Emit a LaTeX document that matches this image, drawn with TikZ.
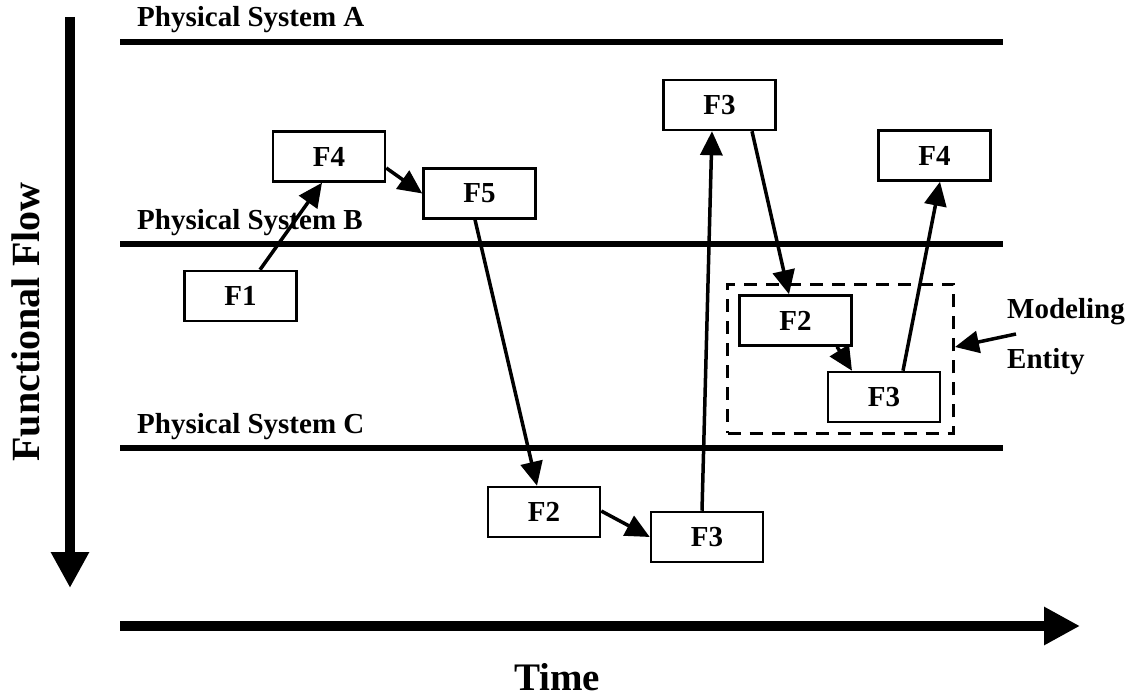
\documentclass[tikz,border=0pt]{standalone}
\usepackage{fontspec}
\setmainfont{Liberation Serif}
\usetikzlibrary{arrows.meta,calc}
\begin{document}
\begin{tikzpicture}[x=1pt,y=-1pt,
  fbox/.style={draw,line width=2.5pt,minimum width=112pt,minimum height=50pt,inner sep=0pt,
    font=\bfseries\fontsize{29}{30}\selectfont},
  conn/.style={line width=3.5pt,-{Triangle[length=24pt,width=22pt]}},
  sysline/.style={line width=6pt},
  syslabel/.style={anchor=base west,inner sep=0pt,font=\bfseries\fontsize{29}{30}\selectfont},
  axis/.style={line width=10pt,-{Triangle[length=36pt,width=36pt]}},
  biglabel/.style={inner sep=0pt,font=\bfseries\fontsize{40}{42}\selectfont}
]
\useasboundingbox (0,0) rectangle (1130,700);
% axes
\coordinate (vtop) at (70,17);
\coordinate (vbot) at (70,588);
\coordinate (hl) at (120,626);
\coordinate (hr) at (1080,626);
\draw[axis] (vtop) -- (vbot);
\draw[axis] (hl) -- (hr);
\node[biglabel,rotate=90] (ff) at (26,322) {Functional Flow};
\node[biglabel,font=\bfseries\fontsize{39}{42}\selectfont,anchor=base] (time) at (557,690) {Time};
% physical systems
\coordinate (al) at (120,42); \coordinate (ar) at (1003,42);
\coordinate (bl) at (120,244); \coordinate (br) at (1003,244);
\coordinate (cl) at (120,448); \coordinate (cr) at (1003,448);
\draw[sysline] (al) -- (ar);
\draw[sysline] (bl) -- (br);
\draw[sysline] (cl) -- (cr);
\node[syslabel] (la) at (137,27) {Physical System A};
\node[syslabel] (lb) at (137,230) {Physical System B};
\node[syslabel] (lc) at (137,433) {Physical System C};
% modeling entity
\node[draw,line width=3pt,dash pattern=on 13pt off 9pt,minimum width=226pt,minimum height=149pt,inner sep=0pt] (ent) at (840.5,359) {};
\node[anchor=west,inner sep=0pt,font=\bfseries\fontsize{29}{30}\selectfont] (mod) at (1007,312) {Modeling};
\node[anchor=west,inner sep=0pt,font=\bfseries\fontsize{29}{30}\selectfont] (enty) at (1007,362) {Entity};
\coordinate (mstart) at (1016,334);
% function boxes
\node[fbox] (f1) at (240.5,296) {F1};
\node[fbox] (f4a) at (329,156.5) {F4};
\node[fbox] (f5) at (479.5,193.5) {F5};
\node[fbox] (f2a) at (544,512) {F2};
\node[fbox] (f3a) at (707,537) {F3};
\node[fbox] (f3b) at (719.5,105) {F3};
\node[fbox] (f2b) at (795.5,320.5) {F2};
\node[fbox] (f3c) at (884,397) {F3};
\node[fbox] (f4b) at (934.5,155.5) {F4};
% connectors
\draw[conn] ([xshift=19.5pt]f1.north) -- ([xshift=-7pt]f4a.south);
\draw[conn] ([yshift=-11.5pt]f4a.east) -- (f5.west);
\draw[conn] ([xshift=-4.5pt]f5.south) -- ([xshift=-7pt]f2a.north);
\draw[conn] ([yshift=1pt]f2a.east) -- (f3a.west);
\draw[conn] ([xshift=-5pt]f3a.north) -- ([xshift=-7.5pt]f3b.south);
\draw[conn] ([xshift=32.5pt]f3b.south) -- ([xshift=-6.5pt]f2b.north);
\draw[conn] ([xshift=41.5pt]f2b.south) -- ([xshift=-32pt]f3c.north);
\draw[conn] ([xshift=19pt]f3c.north) -- ([xshift=5.5pt]f4b.south);
\draw[conn] (mstart) -- ([yshift=12pt]ent.east);
\end{tikzpicture}
\end{document}
